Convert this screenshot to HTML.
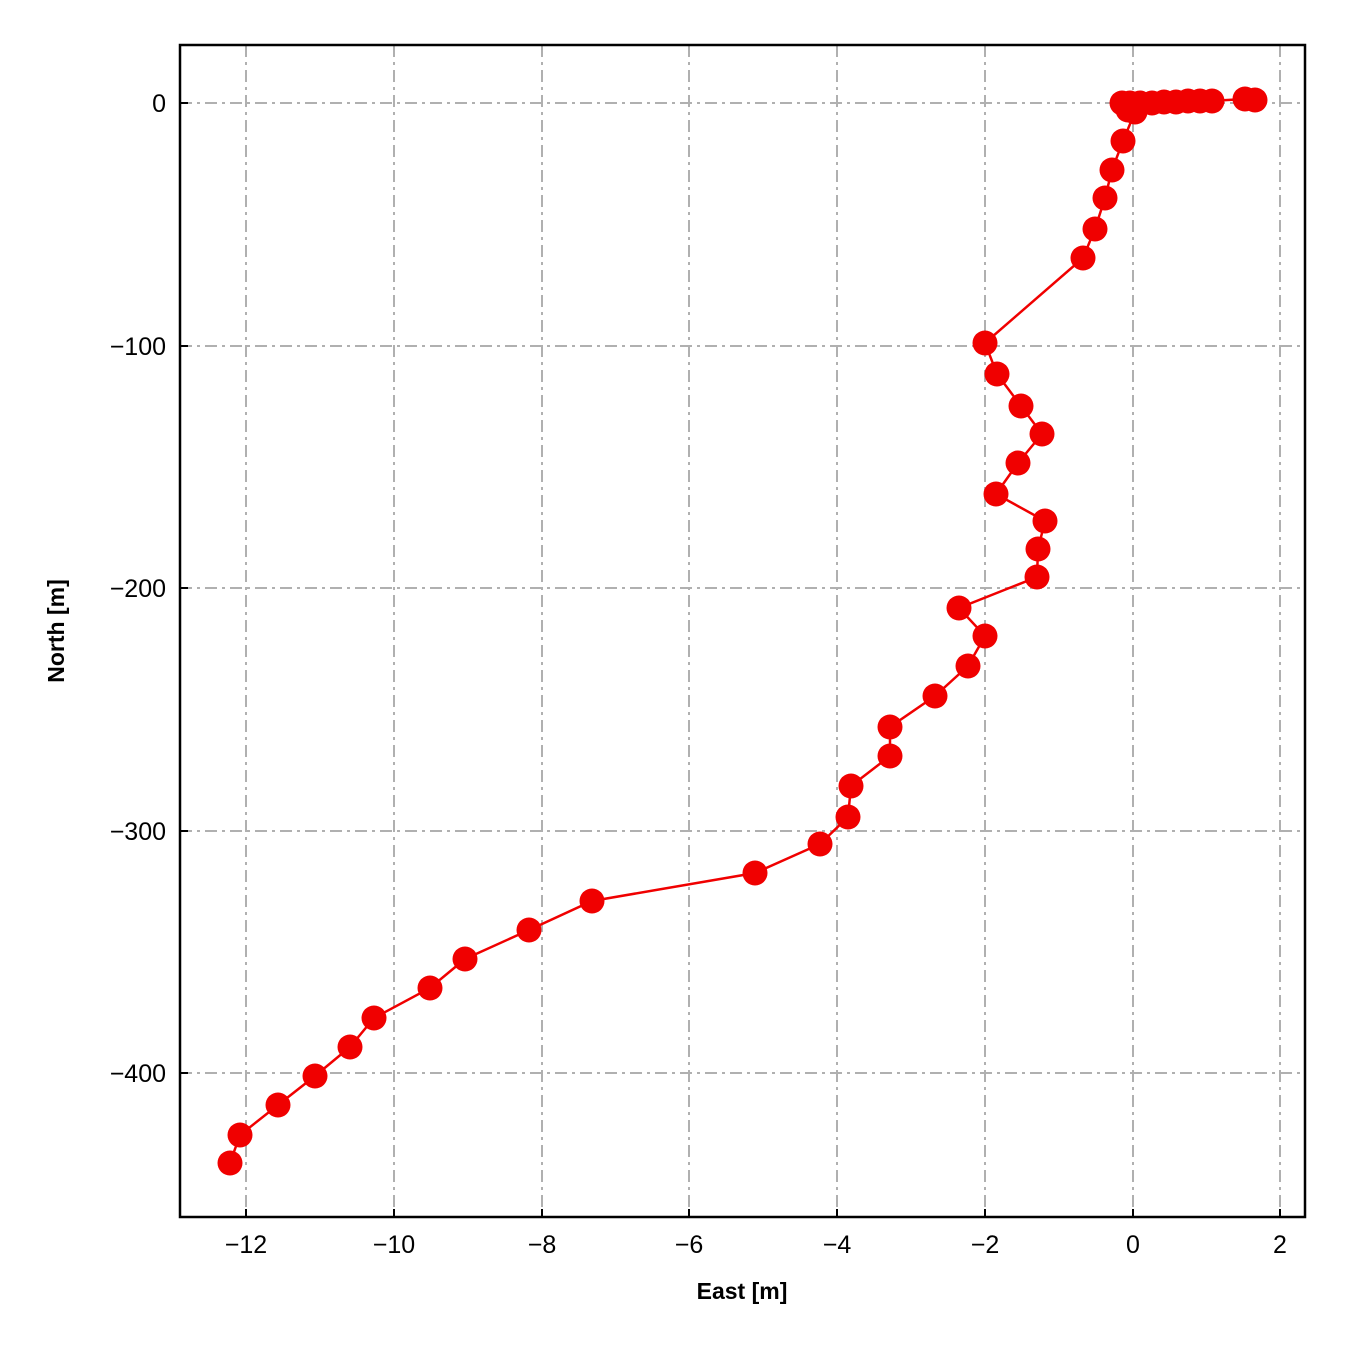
<!DOCTYPE html>
<html><head><style>body{margin:0;background:#fff}</style></head><body>
<svg width="1350" height="1350" xmlns="http://www.w3.org/2000/svg" font-family="Liberation Sans, sans-serif">
<rect width="1350" height="1350" fill="#fff"/>
<g stroke="#b0b0b0" stroke-width="2" stroke-dasharray="12,5,3,5">
<line x1="246" y1="45" x2="246" y2="1217"/><line x1="394" y1="45" x2="394" y2="1217"/><line x1="542" y1="45" x2="542" y2="1217"/><line x1="689" y1="45" x2="689" y2="1217"/><line x1="837" y1="45" x2="837" y2="1217"/><line x1="985" y1="45" x2="985" y2="1217"/><line x1="1133" y1="45" x2="1133" y2="1217"/><line x1="1280" y1="45" x2="1280" y2="1217"/>
<line x1="180" y1="103" x2="1305" y2="103"/><line x1="180" y1="346" x2="1305" y2="346"/><line x1="180" y1="588" x2="1305" y2="588"/><line x1="180" y1="831" x2="1305" y2="831"/><line x1="180" y1="1073" x2="1305" y2="1073"/>
</g>
<g stroke="#000" stroke-width="2">
<line x1="246" y1="1217" x2="246" y2="1209"/><line x1="394" y1="1217" x2="394" y2="1209"/><line x1="542" y1="1217" x2="542" y2="1209"/><line x1="689" y1="1217" x2="689" y2="1209"/><line x1="837" y1="1217" x2="837" y2="1209"/><line x1="985" y1="1217" x2="985" y2="1209"/><line x1="1133" y1="1217" x2="1133" y2="1209"/><line x1="1280" y1="1217" x2="1280" y2="1209"/>
<line x1="180" y1="103" x2="188" y2="103"/><line x1="180" y1="346" x2="188" y2="346"/><line x1="180" y1="588" x2="188" y2="588"/><line x1="180" y1="831" x2="188" y2="831"/><line x1="180" y1="1073" x2="188" y2="1073"/>
</g>
<g fill="#f00000" stroke="#f00000">
<polyline fill="none" stroke-width="2.5" points="1255,100 1245,99 1210,101 1190,101 1170,102 1150,103 1130,103 1122,103 1135,112 1123,141 1112,170 1105,198 1095,229 1083,258 985,343 997,374 1021,406 1042,434 1018,463 996,494 1045,521 1038,549 1037,577 959,608 985,636 968,666 935,696 890,727 890,756 851,786 848,817 820,844 755,873 592,901 529,930 465,959 430,988 374,1018 350,1047 315,1076 278,1105 240,1135 230,1163"/>
<g stroke="none">
<circle cx="1255" cy="100" r="12.5"/><circle cx="1245" cy="99" r="12.5"/><circle cx="1212" cy="101" r="12.5"/><circle cx="1200" cy="101" r="12.5"/><circle cx="1188" cy="101" r="12.5"/><circle cx="1176" cy="102" r="12.5"/><circle cx="1164" cy="102" r="12.5"/><circle cx="1152" cy="103" r="12.5"/><circle cx="1140" cy="103" r="12.5"/><circle cx="1130" cy="103" r="12.5"/><circle cx="1122" cy="103" r="12.5"/><circle cx="1128" cy="110" r="12.5"/><circle cx="1135" cy="112" r="12.5"/><circle cx="1123" cy="141" r="12.5"/><circle cx="1112" cy="170" r="12.5"/><circle cx="1105" cy="198" r="12.5"/><circle cx="1095" cy="229" r="12.5"/><circle cx="1083" cy="258" r="12.5"/><circle cx="985" cy="343" r="12.5"/><circle cx="997" cy="374" r="12.5"/><circle cx="1021" cy="406" r="12.5"/><circle cx="1042" cy="434" r="12.5"/><circle cx="1018" cy="463" r="12.5"/><circle cx="996" cy="494" r="12.5"/><circle cx="1045" cy="521" r="12.5"/><circle cx="1038" cy="549" r="12.5"/><circle cx="1037" cy="577" r="12.5"/><circle cx="959" cy="608" r="12.5"/><circle cx="985" cy="636" r="12.5"/><circle cx="968" cy="666" r="12.5"/><circle cx="935" cy="696" r="12.5"/><circle cx="890" cy="727" r="12.5"/><circle cx="890" cy="756" r="12.5"/><circle cx="851" cy="786" r="12.5"/><circle cx="848" cy="817" r="12.5"/><circle cx="820" cy="844" r="12.5"/><circle cx="755" cy="873" r="12.5"/><circle cx="592" cy="901" r="12.5"/><circle cx="529" cy="930" r="12.5"/><circle cx="465" cy="959" r="12.5"/><circle cx="430" cy="988" r="12.5"/><circle cx="374" cy="1018" r="12.5"/><circle cx="350" cy="1047" r="12.5"/><circle cx="315" cy="1076" r="12.5"/><circle cx="278" cy="1105" r="12.5"/><circle cx="240" cy="1135" r="12.5"/><circle cx="230" cy="1163" r="12.5"/>
</g></g>
<rect x="180" y="45" width="1125" height="1172" fill="none" stroke="#000" stroke-width="2.5"/>
<g font-size="25" text-anchor="middle" fill="#000">
<text x="246" y="1253">−12</text><text x="394" y="1253">−10</text><text x="542" y="1253">−8</text><text x="689" y="1253">−6</text><text x="837" y="1253">−4</text><text x="985" y="1253">−2</text><text x="1133" y="1253">0</text><text x="1280" y="1253">2</text>
</g>
<g font-size="25" text-anchor="end" fill="#000">
<text x="166" y="112">0</text><text x="166" y="355">−100</text><text x="166" y="597">−200</text><text x="166" y="840">−300</text><text x="166" y="1082">−400</text>
</g>
<text x="742" y="1299" font-size="23" font-weight="bold" text-anchor="middle">East [m]</text>
<text transform="translate(64,631) rotate(-90)" font-size="23" font-weight="bold" text-anchor="middle">North [m]</text>
</svg>
</body></html>
